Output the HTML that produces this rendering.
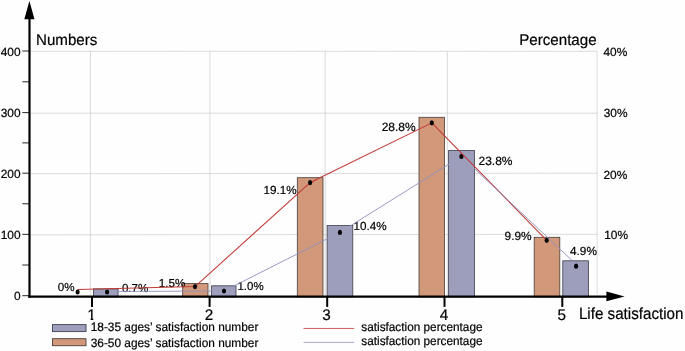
<!DOCTYPE html><html><head><meta charset="utf-8"><title>Life satisfaction</title><style>html,body{margin:0;padding:0;background:#fff}svg{display:block}text{font-family:"Liberation Sans",Arial,sans-serif;fill:#000;stroke:#000;stroke-width:0.2px;text-rendering:geometricPrecision}</style></head><body>
<svg width="685" height="351" viewBox="0 0 685 351">
<rect width="685" height="351" fill="#fefefe"/>
<g stroke="#cdcdcd" stroke-width="0.7" fill="none"><line x1="30" x2="597.6" y1="234.85" y2="234.35"/><line x1="30" x2="597.6" y1="173.7" y2="173.2"/><line x1="30" x2="597.6" y1="113.2" y2="113.2"/><line x1="30" x2="597.6" y1="51.35" y2="51.25"/><line x1="90.4" x2="90.4" y1="51.3" y2="295"/><line x1="209.9" x2="209.9" y1="51.3" y2="295"/><line x1="325.2" x2="325.2" y1="51.3" y2="295"/><line x1="447.4" x2="447.4" y1="51.3" y2="295"/><line x1="597.1" x2="597.1" y1="51.3" y2="295"/></g>
<defs><clipPath id="nb"><path clip-rule="evenodd" d="M0 0H685V351H0ZM93.8 289.3H117.7V297H93.8ZM212.0 286.2H235.6V297H212.0ZM327.5 225.9H352.4V297H327.5ZM449.0 150.9H474.0V297H449.0ZM563.2 261.2H588.2V297H563.2Z"/></clipPath></defs>
<rect x="182.70" y="283.60" width="25.30" height="13.30" fill="#d19879" stroke="#463d39" stroke-width="0.8"/>
<rect x="297.30" y="177.70" width="25.70" height="119.20" fill="#d19879" stroke="#463d39" stroke-width="0.8"/>
<rect x="419.00" y="117.30" width="25.50" height="179.60" fill="#d19879" stroke="#463d39" stroke-width="0.8"/>
<rect x="534.20" y="237.30" width="25.60" height="59.60" fill="#d19879" stroke="#463d39" stroke-width="0.8"/>
<rect x="93.40" y="288.90" width="24.70" height="8.00" fill="#9c9ebc" stroke="#3c3d49" stroke-width="0.8"/>
<rect x="211.60" y="285.80" width="24.40" height="11.10" fill="#9c9ebc" stroke="#3c3d49" stroke-width="0.8"/>
<rect x="327.10" y="225.50" width="25.70" height="71.40" fill="#9c9ebc" stroke="#3c3d49" stroke-width="0.8"/>
<rect x="448.60" y="150.50" width="25.80" height="146.40" fill="#9c9ebc" stroke="#3c3d49" stroke-width="0.8"/>
<rect x="562.80" y="260.80" width="25.80" height="36.10" fill="#9c9ebc" stroke="#3c3d49" stroke-width="0.8"/>
<text x="57.8" y="290.5" font-size="11.6">0%</text>
<text x="121.9" y="291.6" font-size="11.6">0.7%</text>
<text x="158.8" y="287.3" font-size="11.6">1.5%</text>
<text x="237.4" y="289.5" font-size="11.5">1.0%</text>
<text x="263.6" y="194.1" font-size="11.7">19.1%</text>
<text x="353.5" y="229.7" font-size="11.7">10.4%</text>
<text x="381.7" y="130.8" font-size="12.0">28.8%</text>
<text x="478.5" y="164.8" font-size="12.0">23.8%</text>
<text x="504.6" y="240.1" font-size="11.9">9.9%</text>
<text x="570.0" y="254.9" font-size="11.8">4.9%</text>
<ellipse cx="107.1" cy="292" rx="2.1" ry="2.6" fill="#050505"/>
<ellipse cx="224" cy="291.0" rx="2.1" ry="2.6" fill="#050505"/>
<ellipse cx="339.9" cy="232.4" rx="2.1" ry="2.6" fill="#050505"/>
<ellipse cx="461.4" cy="156.4" rx="2.1" ry="2.6" fill="#050505"/>
<ellipse cx="576.1" cy="266.2" rx="2.1" ry="2.6" fill="#050505"/>
<path fill="none" stroke="#c23a36" stroke-width="1.05" stroke-linejoin="round" d="M77.6 289.6L195 286.6L298.23 193.33Q309.20 181.90 324.46 175.55L431.8 122.85L546.7 240.3"/>
<polyline clip-path="url(#nb)" fill="none" stroke="#8e91c0" stroke-width="0.9" points="107.1,291.5 224,291.0 339.9,232.4 461.4,156.4 578.2,266.2"/>
<ellipse cx="77.6" cy="292" rx="2.1" ry="2.6" fill="#050505"/>
<ellipse cx="195" cy="286.6" rx="2.1" ry="2.6" fill="#050505"/>
<ellipse cx="310.1" cy="182.6" rx="2.1" ry="2.6" fill="#050505"/>
<ellipse cx="431.8" cy="122.85" rx="2.1" ry="2.6" fill="#050505"/>
<ellipse cx="546.7" cy="240.3" rx="2.1" ry="2.6" fill="#050505"/>
<g stroke="#000" fill="#000">
<line x1="29.5" x2="29.5" y1="16" y2="297.7" stroke-width="2.2"/>
<line x1="28.4" x2="608" y1="296.6" y2="296.6" stroke-width="2.3"/>
<polygon points="29.4,1 34.5,19.2 24.3,19.2" stroke="none"/>
<polygon points="624.6,296.4 606.4,291.5 606.4,301.3" stroke="none"/>
<line x1="92.0" x2="92.0" y1="296" y2="306.9" stroke-width="2.0"/>
<line x1="209.6" x2="209.6" y1="296" y2="306.9" stroke-width="2.0"/>
<line x1="327.2" x2="327.2" y1="296" y2="306.9" stroke-width="2.0"/>
<line x1="444.5" x2="444.5" y1="296" y2="306.9" stroke-width="2.0"/>
<line x1="562.3" x2="562.3" y1="296" y2="306.9" stroke-width="2.0"/>
<line x1="22.3" x2="29" y1="295.70" y2="295.70" stroke-width="0.85"/>
<line x1="22.3" x2="29" y1="265.02" y2="265.02" stroke-width="0.85"/>
<line x1="22.3" x2="29" y1="234.35" y2="234.35" stroke-width="0.85"/>
<line x1="22.3" x2="29" y1="203.77" y2="203.77" stroke-width="0.85"/>
<line x1="22.3" x2="29" y1="173.20" y2="173.20" stroke-width="0.85"/>
<line x1="22.3" x2="29" y1="142.90" y2="142.90" stroke-width="0.85"/>
<line x1="22.3" x2="29" y1="112.60" y2="112.60" stroke-width="0.85"/>
<line x1="22.3" x2="29" y1="81.80" y2="81.80" stroke-width="0.85"/>
<line x1="22.3" x2="29" y1="51.00" y2="51.00" stroke-width="0.85"/>
</g>
<text x="20.6" y="300.4" font-size="11.9" text-anchor="end">0</text>
<text x="20.6" y="239.4" font-size="11.9" text-anchor="end">100</text>
<text x="20.6" y="178.4" font-size="11.9" text-anchor="end">200</text>
<text x="20.6" y="117.0" font-size="11.9" text-anchor="end">300</text>
<text x="20.6" y="56.4" font-size="11.9" text-anchor="end">400</text>
<text x="604.2" y="239.4" font-size="11.9">10%</text>
<text x="603.5" y="178.9" font-size="11.9">20%</text>
<text x="603.7" y="117.0" font-size="11.9">30%</text>
<text x="603.5" y="56.3" font-size="11.9">40%</text>
<text x="36.05" y="45.1" font-size="15.6" textLength="61.3" lengthAdjust="spacingAndGlyphs">Numbers</text>
<text x="519.2" y="44.9" font-size="15.6" textLength="77.4" lengthAdjust="spacingAndGlyphs">Percentage</text>
<text x="578.9" y="318.7" font-size="16.2" textLength="104.6" lengthAdjust="spacingAndGlyphs">Life satisfaction</text>
<defs><clipPath id="c1"><path d="M80 300H100V317.7H93.3V321H90.6V317.7H80Z"/></clipPath></defs>
<g clip-path="url(#c1)">
<text x="87.15" y="319.5" font-size="15.4" textLength="8.5" lengthAdjust="spacingAndGlyphs">1</text>
</g>
<text x="204.75" y="319.5" font-size="15.4" textLength="8.5" lengthAdjust="spacingAndGlyphs">2</text>
<text x="322.35" y="319.5" font-size="15.4" textLength="8.5" lengthAdjust="spacingAndGlyphs">3</text>
<text x="439.65" y="319.5" font-size="15.4" textLength="8.5" lengthAdjust="spacingAndGlyphs">4</text>
<text x="557.45" y="319.5" font-size="15.4" textLength="8.5" lengthAdjust="spacingAndGlyphs">5</text>
<rect x="52.5" y="324.6" width="33.5" height="7" fill="#9c9ebc" stroke="#3f4050" stroke-width="0.9"/>
<rect x="52.5" y="338.7" width="33.5" height="7" fill="#d19879" stroke="#4a3e38" stroke-width="0.9"/>
<text x="90.7" y="331.0" font-size="12.2" textLength="167.7" lengthAdjust="spacingAndGlyphs">18-35 ages’ satisfaction number</text>
<text x="90.7" y="347.2" font-size="12.2" textLength="167.7" lengthAdjust="spacingAndGlyphs">36-50 ages’ satisfaction number</text>
<line x1="303.5" x2="354.2" y1="328.45" y2="328.45" stroke="#c23a36" stroke-width="0.8"/>
<line x1="303.5" x2="354.2" y1="342.4" y2="342.4" stroke="#8e91c0" stroke-width="0.8"/>
<text x="361.3" y="330.7" font-size="12.2" textLength="121.2" lengthAdjust="spacingAndGlyphs">satisfaction percentage</text>
<text x="361.3" y="344.8" font-size="12.2" textLength="121.2" lengthAdjust="spacingAndGlyphs">satisfaction percentage</text>
</svg></body></html>
